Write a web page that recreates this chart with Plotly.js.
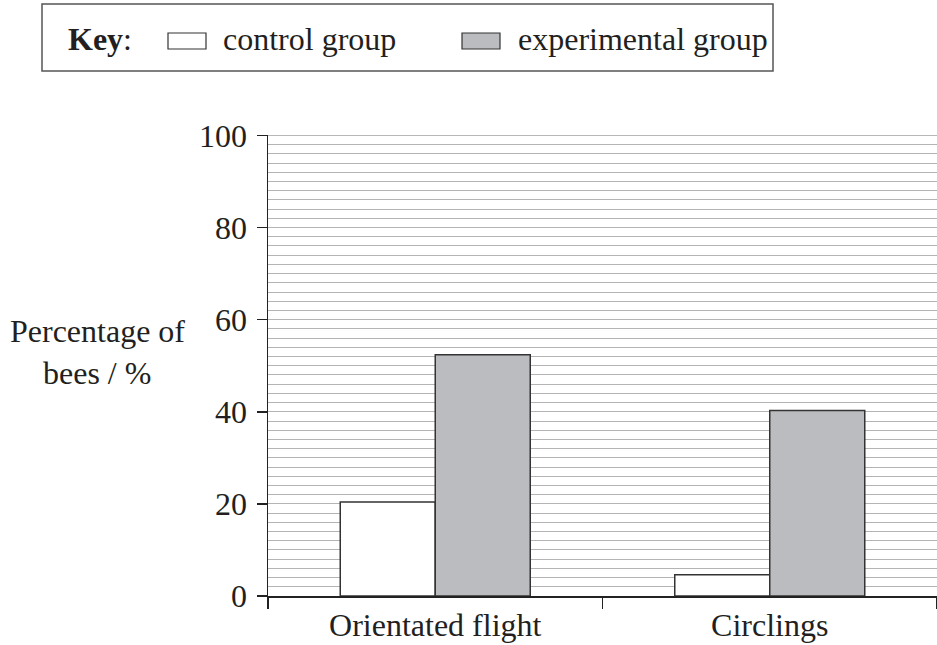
<!DOCTYPE html>
<html>
<head>
<meta charset="utf-8">
<script src="https://cdn.plot.ly/plotly-3.0.1.min.js"></script>
<style>html,body{margin:0;padding:0;background:#fff;}#chart{width:937px;height:645px;}</style>
</head>
<body>
<div id="chart"></div>
<script>
const categories = ["Orientated flight", "Circlings"];
const controlValues = [20.4, 4.6];
const experimentalValues = [52.4, 40.3];
const seriesNames = ["control group", "experimental group"];
const yTickValues = [0, 20, 40, 60, 80, 100];

const FONT = "Liberation Serif, Times New Roman, serif";
const FS = 32;
const TXT = "#231f20";
const L = 268, T = 135, W = 937, H = 645, B = 49, R = 0;
const PW = W - L - R, PH = H - T - B;
const px = x => (x - L) / PW;
const py = y => (H - B - y) / PH;

const traces = [
  {type: "bar", name: seriesNames[0], x: categories, y: controlValues,
   marker: {color: "#ffffff", line: {color: "#333333", width: 1.5}}, showlegend: false, hoverinfo: "x+y+name"},
  {type: "bar", name: seriesNames[1], x: categories, y: experimentalValues,
   marker: {color: "#bbbcbf", line: {color: "#333333", width: 1.5}}, showlegend: false, hoverinfo: "x+y+name"}
];

const layout = {
  width: W, height: H,
  margin: {l: L, r: R, t: T, b: B, pad: 0},
  paper_bgcolor: "#ffffff", plot_bgcolor: "#ffffff",
  barmode: "group", bargap: 0.432, bargroupgap: 0,
  font: {family: FONT, size: FS, color: TXT},
  xaxis: {
    type: "category", range: [-0.5, 1.5],
    showline: true, linecolor: "#222", linewidth: 1.5,
    ticks: "outside", tickson: "boundaries", ticklen: 11, tickcolor: "#222", tickwidth: 1.5,
    showgrid: false, zeroline: false,
    tickfont: {family: FONT, size: FS, color: TXT}
  },
  yaxis: {
    range: [0, 100.1], tickvals: yTickValues, ticktext: yTickValues.map(String),
    showline: true, linecolor: "#222", linewidth: 1.5,
    ticks: "outside", ticklen: 10, tickcolor: "#222", tickwidth: 1.5,
    showgrid: true, gridcolor: "#b4b4b4", gridwidth: 1,
    minor: {dtick: 2, showgrid: true, gridcolor: "#b4b4b4", gridwidth: 1, ticks: ""},
    zeroline: false, ticklabelstandoff: 3,
    tickfont: {family: FONT, size: FS, color: TXT}
  },
  shapes: [
    {type: "line", xref: "paper", yref: "y", x0: 0, x1: 1, y0: 100, y1: 100, layer: "below",
     line: {color: "#b4b4b4", width: 1}},
    {type: "rect", xref: "paper", yref: "paper", x0: px(42), x1: px(773), y0: py(71), y1: py(4),
     line: {color: "#555", width: 1.5}, fillcolor: "rgba(0,0,0,0)"},
    {type: "rect", xref: "paper", yref: "paper", x0: px(168), x1: px(206), y0: py(49), y1: py(33),
     line: {color: "#333", width: 1.2}, fillcolor: "#ffffff"},
    {type: "rect", xref: "paper", yref: "paper", x0: px(462), x1: px(500), y0: py(49), y1: py(33),
     line: {color: "#333", width: 1.2}, fillcolor: "#bbbcbf"}
  ],
  annotations: [
    {xref: "paper", yref: "paper", x: px(66), y: py(39), xanchor: "left", yanchor: "middle",
     text: "<b>Key</b>:", showarrow: false, font: {family: FONT, size: FS, color: TXT}},
    {xref: "paper", yref: "paper", x: px(221), y: py(39), xanchor: "left", yanchor: "middle",
     text: seriesNames[0], showarrow: false, font: {family: FONT, size: FS, color: TXT}},
    {xref: "paper", yref: "paper", x: px(516), y: py(39), xanchor: "left", yanchor: "middle",
     text: seriesNames[1], showarrow: false, font: {family: FONT, size: FS, color: TXT}},
    {xref: "paper", yref: "paper", x: px(97), y: py(331), xanchor: "center", yanchor: "middle",
     text: "Percentage of", showarrow: false, font: {family: FONT, size: FS, color: TXT}},
    {xref: "paper", yref: "paper", x: px(97), y: py(373), xanchor: "center", yanchor: "middle",
     text: "bees / %", showarrow: false, font: {family: FONT, size: FS, color: TXT}}
  ]
};

Plotly.newPlot("chart", traces, layout, {displayModeBar: false, staticPlot: true});
</script>
</body>
</html>
